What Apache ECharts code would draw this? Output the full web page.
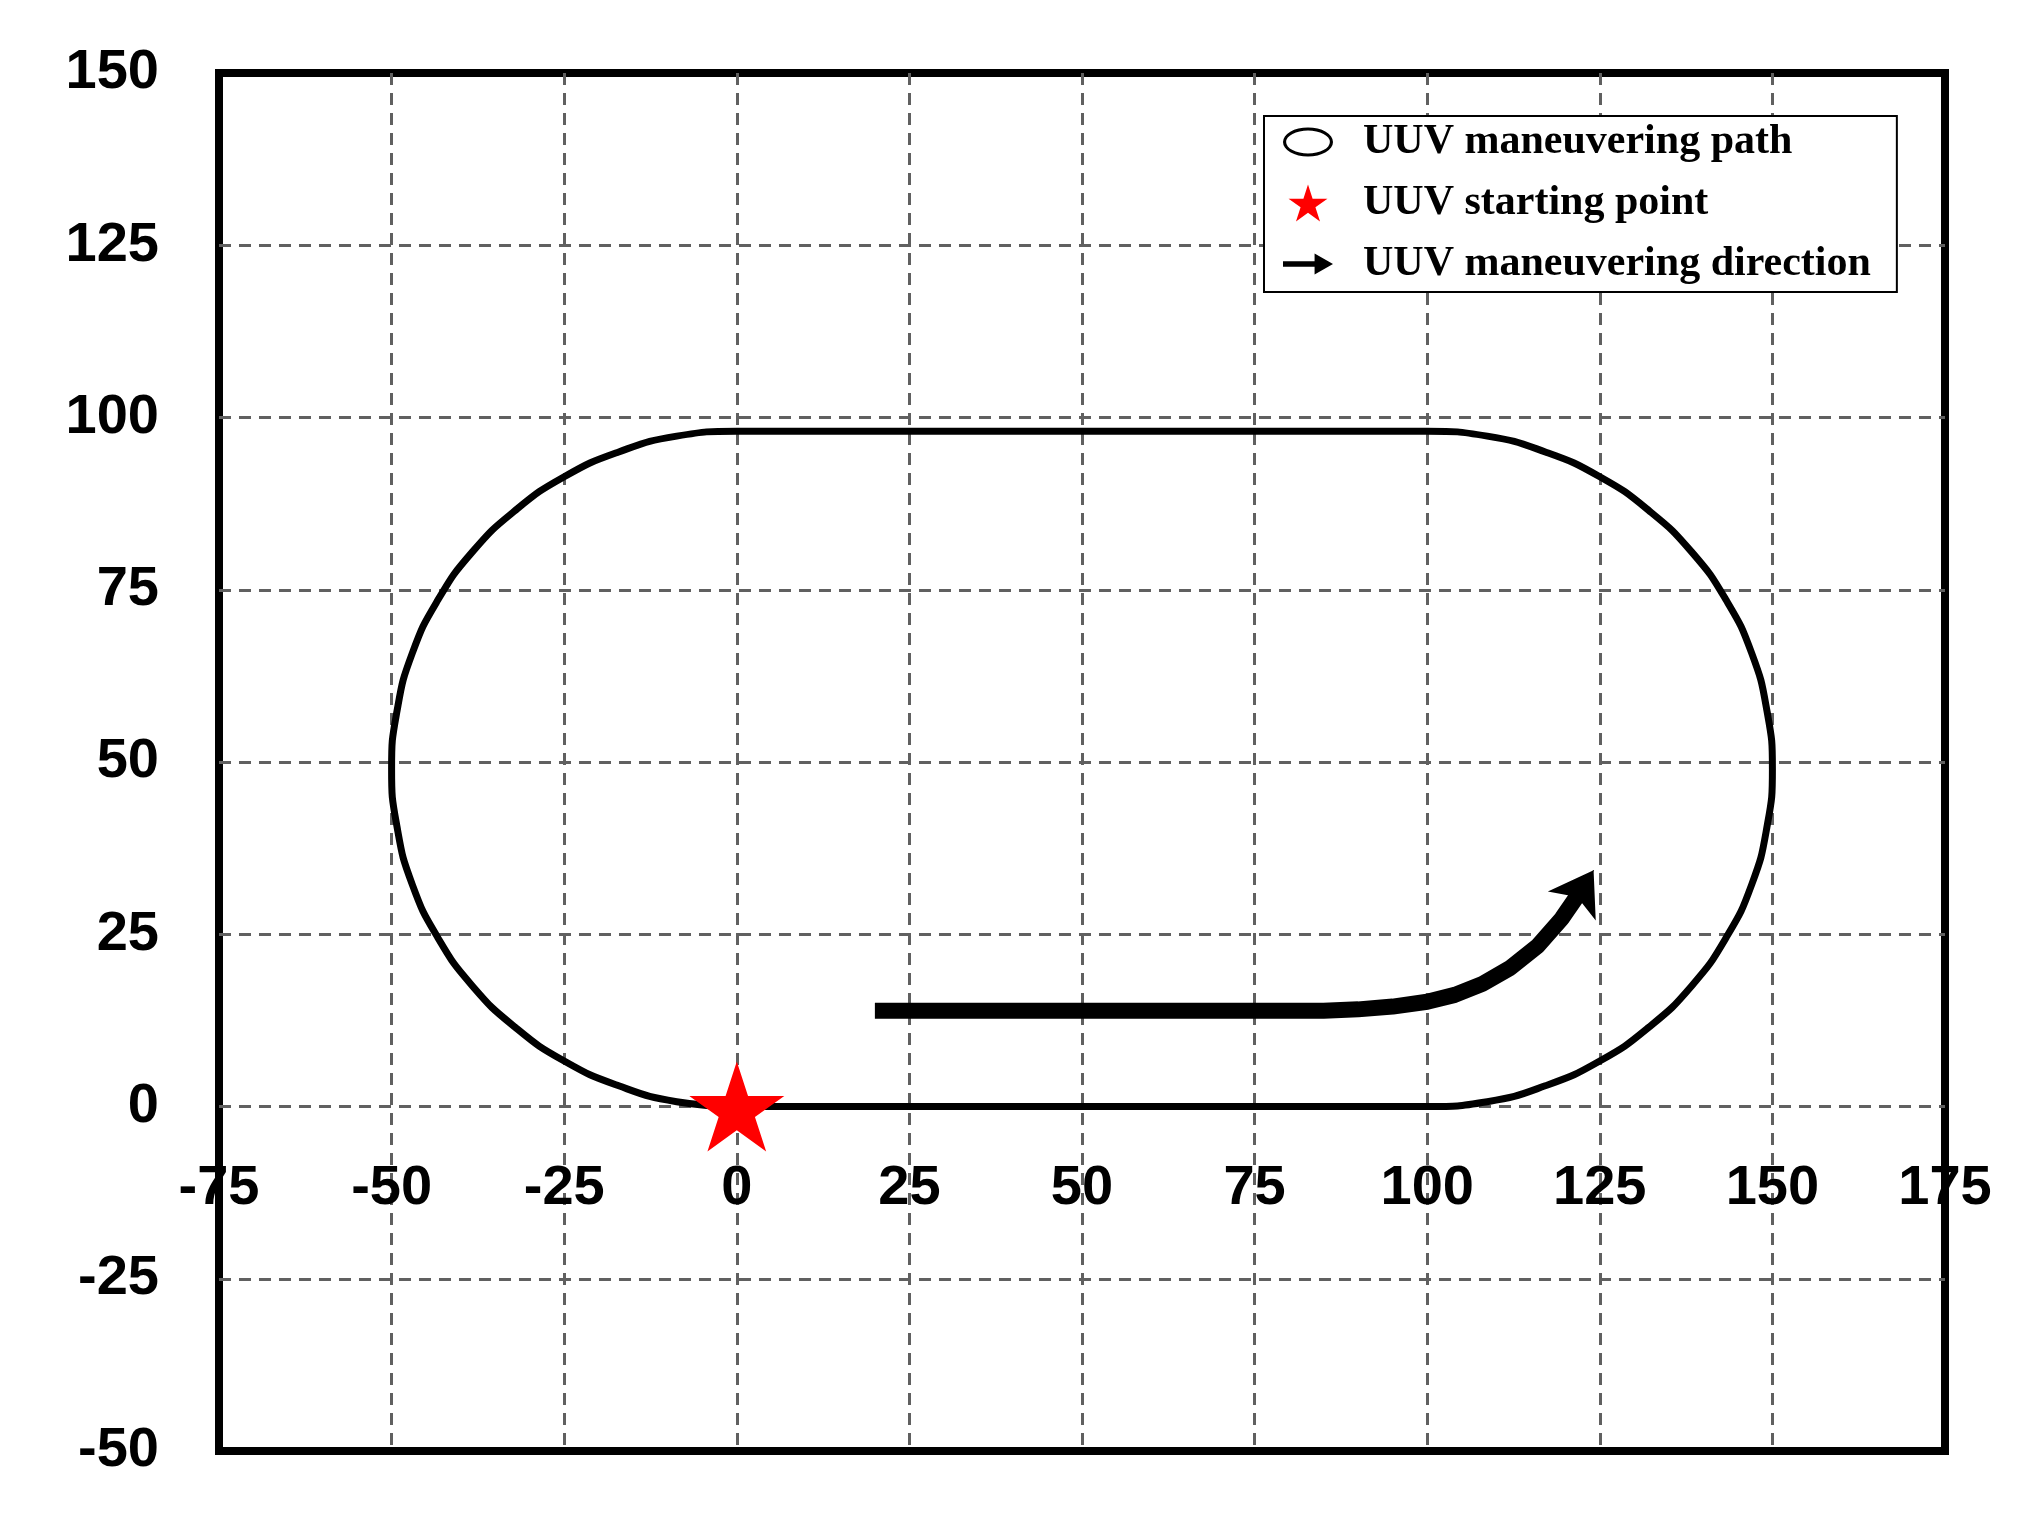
<!DOCTYPE html>
<html><head><meta charset="utf-8">
<script src="https://cdn.jsdelivr.net/npm/echarts@6/dist/echarts.min.js"></script>
<style>html,body{margin:0;padding:0;background:#fff}#c{width:2044px;height:1540px}</style>
</head><body><div id="c"></div>
<script>
// ---- data ----
const xTicks = [-75, -50, -25, 0, 25, 50, 75, 100, 125, 150, 175];
const yTicks = [-50, -25, 0, 25, 50, 75, 100, 125, 150];

const seriesNames = ['UUV maneuvering path', 'UUV starting point', 'UUV maneuvering direction'];

// closed race-track path (x, y)
const pathX = [0, 25, 50, 75, 100, 108.7, 117.1, 125.0, 132.1, 138.3, 143.3, 147.0, 149.2, 150, 149.2, 147.0, 143.3, 138.3, 132.1, 125.0, 117.1, 108.7, 100,
  75, 50, 25, 0, -8.7, -17.1, -25.0, -32.1, -38.3, -43.3, -47.0, -49.2, -50, -49.2, -47.0, -43.3, -38.3, -32.1, -25.0, -17.1, -8.7, 0];
const pathY = [0, 0, 0, 0, 0, 0.7, 3.0, 6.6, 11.5, 17.5, 24.5, 32.2, 40.5, 49, 57.5, 65.8, 73.5, 80.5, 86.5, 91.4, 95.0, 97.3, 98,
  98, 98, 98, 98, 97.3, 95.0, 91.4, 86.5, 80.5, 73.5, 65.8, 57.5, 49, 40.5, 32.2, 24.5, 17.5, 11.5, 6.6, 3.0, 0.7, 0];

// starting point
const startX = [0];
const startY = [0];

// direction arrow shaft
const arrowX = [20, 85, 90, 95, 100, 104, 108, 112, 116, 119.5, 122.6];
const arrowY = [13.9, 13.9, 14.1, 14.5, 15.2, 16.2, 17.8, 20.1, 23.3, 27.3, 31.8];
// direction arrow head (base -> tip)
const headX = [121.8, 124.1];
const headY = [30.5, 34.3];

// ---- icons ----
const ellipseIcon = 'path://M0,14 A24,14 0 1,1 48,14 A24,14 0 1,1 0,14 Z M3,14 A21,11 0 1,0 45,14 A21,11 0 1,0 3,14 Z';
const starIcon = 'path://M50,0 L61.23,34.55 L97.55,34.55 L68.16,55.9 L79.39,90.45 L50,69.1 L20.61,90.45 L31.84,55.9 L2.45,34.55 L38.77,34.55 Z';
const arrowIcon = 'path://M0,6 L24,6 L24,0 L38,8 L24,16 L24,10 L0,10 Z';

const zip = (a, b) => a.map((v, i) => [v, b[i]]);

const GRID = { left: 219, right: 99, top: 73, bottom: 89 };
const plotH = 1540 - GRID.top - GRID.bottom;
// the x axis sits on y = 0 : shift it up from the bottom edge by the distance of 0 from the minimum
const xAxisOffset = -plotH * (0 - yTicks[0]) / (yTicks[yTicks.length - 1] - yTicks[0]);

const labelFont = { fontSize: 56, fontWeight: 'bold', fontFamily: 'Liberation Sans', color: '#000' };
const splitStyle = { show: true, showMinLine: false, showMaxLine: false,
  lineStyle: { color: '#606060', width: 3, type: [12, 8] } };

const chart = echarts.init(document.getElementById('c'));
chart.setOption({
  animation: false,
  backgroundColor: '#fff',
  grid: Object.assign({ show: true, borderColor: '#000', borderWidth: 8,
          backgroundColor: 'transparent', outerBoundsMode: 'none', containLabel: false }, GRID),
  xAxis: {
    type: 'value', min: xTicks[0], max: xTicks[xTicks.length - 1], interval: 25,
    position: 'bottom', offset: xAxisOffset,
    axisLine: { show: false, onZero: false },
    axisTick: { show: false },
    axisLabel: Object.assign({ margin: 54, showMinLabel: true, showMaxLabel: true }, labelFont),
    splitLine: splitStyle
  },
  yAxis: {
    type: 'value', min: yTicks[0], max: yTicks[yTicks.length - 1], interval: 25,
    axisLine: { show: false, onZero: false }, axisTick: { show: false },
    axisLabel: Object.assign({ margin: 60, showMinLabel: true, showMaxLabel: true }, labelFont),
    splitLine: splitStyle
  },
  legend: {
    left: 1264, top: 116, orient: 'vertical', selectedMode: false,
    backgroundColor: '#fff', borderColor: '#000', borderWidth: 2, borderRadius: 0,
    padding: [5, 26, 7, 19], itemWidth: 50, itemHeight: 37, itemGap: 19,
    textStyle: { fontFamily: 'Liberation Serif', fontWeight: 'bold', fontSize: 42, color: '#000',
                 lineHeight: 37, padding: [0, 0, 0, 25] },
    data: [
      { name: seriesNames[0], icon: ellipseIcon, itemStyle: { color: '#000', borderWidth: 0 } },
      { name: seriesNames[1], icon: starIcon, itemStyle: { color: '#ff0000', borderWidth: 0 } },
      { name: seriesNames[2], icon: arrowIcon, itemStyle: { color: '#000', borderWidth: 0 } }
    ]
  },
  series: [
    { name: seriesNames[0], type: 'line', data: zip(pathX, pathY), symbol: 'none', showSymbol: false,
      smooth: 0.5, lineStyle: { color: '#000', width: 7 }, itemStyle: { color: '#000' }, z: 2, silent: true },
    { name: seriesNames[2], type: 'lines', coordinateSystem: 'cartesian2d', polyline: true,
      data: [{ coords: zip(arrowX, arrowY) }], symbol: 'none',
      lineStyle: { color: '#000', width: 16, opacity: 1, cap: 'butt', join: 'round' }, z: 3, silent: true },
    { name: seriesNames[2], type: 'lines', coordinateSystem: 'cartesian2d', polyline: false,
      data: [{ coords: zip(headX, headY) }], symbol: ['none', 'arrow'], symbolSize: 42,
      lineStyle: { color: '#000', width: 1, opacity: 1 }, z: 4, silent: true },
    { name: seriesNames[1], type: 'scatter', data: zip(startX, startY), symbol: starIcon,
      symbolSize: [95, 90], itemStyle: { color: '#ff0000', opacity: 1 }, z: 5, silent: true }
  ]
});
</script></body></html>
